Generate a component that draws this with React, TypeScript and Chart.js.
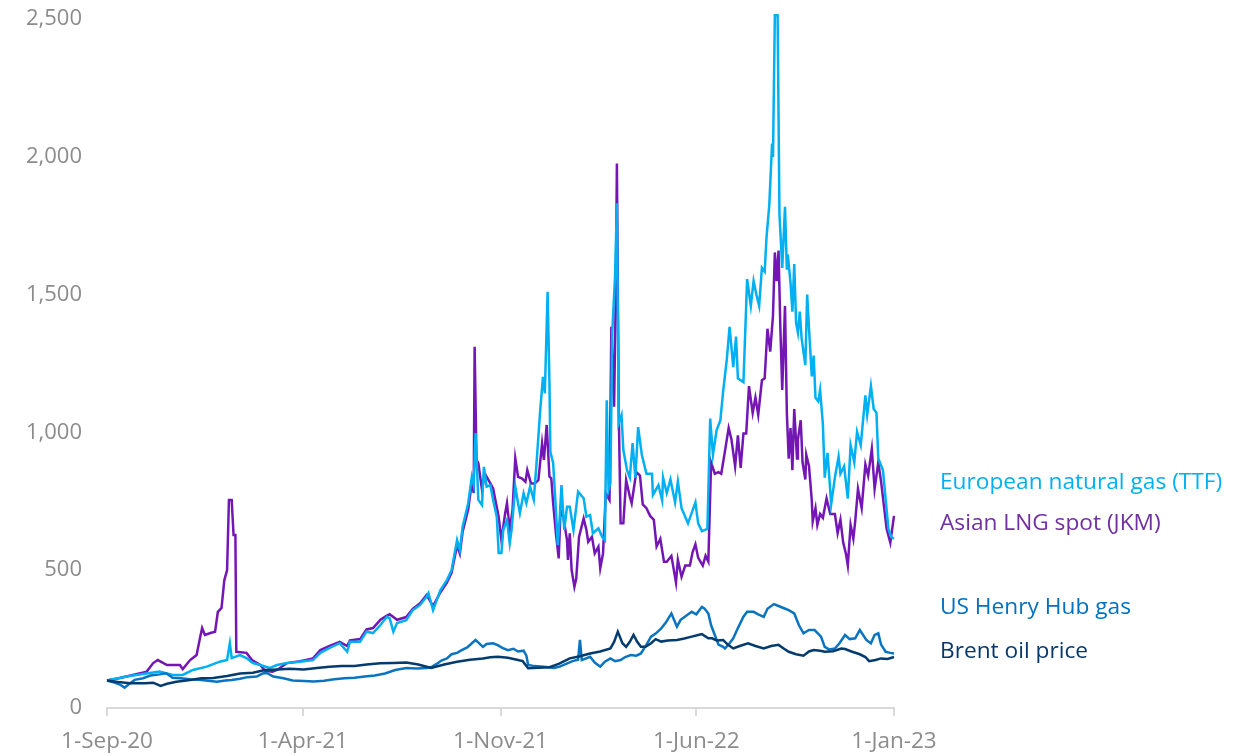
import React, { useEffect, useRef } from 'react';
import { Chart, registerables } from 'chart.js';

Chart.register(...registerables);

// ---- data (x = days since 1-Sep-20, y = index, 1-Sep-20 = 100) ----
const startDate = '2020-09-01';
const tickDates = ['2020-09-01', '2021-04-01', '2021-11-01', '2022-06-01', '2023-01-01'];
const tickLabels = ['1-Sep-20', '1-Apr-21', '1-Nov-21', '1-Jun-22', '1-Jan-23'];
const yTicks = [0, 500, 1000, 1500, 2000, 2500];

const seriesNames = ['European natural gas (TTF)', 'Asian LNG spot (JKM)', 'US Henry Hub gas', 'Brent oil price'];

const ttfDays = [0, 21, 39, 57, 71, 82, 93, 108, 122, 130, 133, 135, 144, 151, 158, 166, 176, 184, 195, 209, 223, 231, 241, 252, 260, 263, 274, 281, 288, 296, 303, 306, 310, 314, 324, 331, 339, 346, 348, 353, 361, 368, 373, 379, 382, 385, 391, 395, 397, 399, 402, 406, 408, 411, 415, 418, 422, 424, 427, 429, 433, 436, 438, 442, 445, 447, 451, 454, 458, 462, 465, 469, 472, 474, 477, 479, 480, 483, 486, 488, 490, 492, 495, 498, 501, 505, 510, 516, 519, 523, 526, 532, 536, 539, 541, 543, 545, 547, 550, 552, 554, 557, 559, 563, 566, 569, 572, 575, 579, 584, 590, 591, 597, 601, 602, 606, 610, 615, 618, 622, 629, 637, 640, 644, 650, 653, 656, 660, 664, 667, 671, 674, 678, 681, 683, 689, 693, 697, 700, 703, 706, 709, 712, 714, 717, 720, 721, 723, 726, 728, 731, 734, 736, 737, 740, 742, 744, 746, 748, 750, 752, 756, 758, 760, 763, 765, 767, 770, 772, 775, 777, 780, 782, 784, 788, 792, 794, 798, 802, 805, 809, 812, 816, 821, 823, 827, 830, 833, 835, 840, 846, 849, 852];
const ttfValues = [100, 114, 123, 132, 120, 120, 138, 150, 168, 174, 235, 181, 192, 181, 163, 156, 145, 156, 163, 168, 174, 200, 218, 235, 204, 240, 240, 277, 272, 301, 331, 326, 277, 308, 319, 355, 374, 404, 417, 355, 428, 464, 500, 609, 573, 658, 743, 839, 810, 998, 755, 736, 875, 803, 809, 755, 694, 562, 562, 646, 682, 598, 646, 803, 743, 707, 779, 743, 803, 755, 888, 1081, 1202, 1142, 1510, 1178, 930, 888, 718, 591, 682, 809, 646, 730, 730, 646, 785, 761, 694, 700, 634, 652, 621, 609, 1117, 791, 815, 1365, 1565, 1831, 1033, 1063, 936, 863, 836, 961, 836, 1019, 919, 850, 850, 773, 809, 753, 836, 780, 829, 746, 822, 725, 670, 746, 670, 642, 650, 1050, 919, 1009, 1043, 1148, 1265, 1383, 1237, 1348, 1196, 1182, 1556, 1459, 1549, 1500, 1459, 1597, 1583, 1708, 1826, 2048, 1999, 2514, 2514, 1792, 1597, 1819, 1590, 1646, 1542, 1438, 1611, 1397, 1362, 1438, 1341, 1244, 1500, 1376, 1203, 1279, 1126, 1113, 1154, 1030, 836, 926, 836, 739, 836, 912, 850, 877, 760, 954, 892, 1002, 954, 1134, 1064, 1168, 1085, 1071, 905, 863, 650, 621, 614];

const jkmDays = [0, 14, 28, 43, 50, 55, 65, 79, 82, 90, 97, 101, 103, 106, 112, 117, 120, 124, 127, 130, 132, 135, 137, 139, 140, 151, 157, 166, 171, 179, 184, 195, 209, 223, 231, 241, 252, 260, 263, 274, 281, 288, 296, 303, 306, 314, 324, 331, 339, 346, 353, 361, 368, 373, 379, 382, 385, 391, 395, 397, 398, 400, 402, 406, 409, 415, 418, 424, 427, 431, 433, 436, 439, 442, 445, 449, 453, 455, 459, 463, 467, 471, 473, 476, 479, 481, 483, 486, 489, 491, 494, 498, 499, 501, 503, 506, 508, 511, 516, 519, 521, 525, 528, 532, 534, 537, 540, 544, 546, 549, 551, 552, 554, 556, 559, 562, 566, 568, 573, 577, 580, 584, 588, 592, 595, 599, 603, 606, 611, 616, 618, 622, 626, 631, 634, 637, 640, 645, 648, 651, 654, 658, 662, 665, 669, 673, 676, 680, 683, 686, 689, 692, 695, 699, 702, 705, 709, 712, 715, 718, 721, 723, 725, 727, 729, 731, 734, 736, 738, 740, 742, 744, 747, 748, 751, 753, 756, 757, 760, 763, 764, 767, 769, 772, 775, 779, 783, 788, 791, 794, 797, 800, 802, 805, 808, 810, 813, 817, 821, 824, 828, 831, 835, 838, 844, 848, 852];
const jkmValues = [100, 109, 120, 132, 163, 174, 156, 156, 141, 174, 192, 259, 290, 265, 272, 277, 349, 363, 464, 500, 755, 755, 628, 628, 204, 200, 174, 156, 135, 132, 138, 163, 170, 180, 210, 225, 240, 225, 245, 250, 285, 290, 320, 335, 340, 320, 330, 360, 380, 410, 370, 420, 455, 490, 590, 560, 640, 720, 820, 780, 1311, 900, 888, 791, 851, 815, 797, 694, 609, 706, 743, 646, 718, 906, 839, 833, 821, 863, 815, 815, 827, 960, 900, 1027, 839, 833, 743, 634, 543, 718, 694, 609, 537, 634, 500, 440, 470, 621, 688, 646, 603, 621, 561, 585, 507, 561, 779, 755, 1383, 1093, 1553, 1976, 1081, 670, 670, 827, 767, 743, 856, 843, 739, 725, 697, 683, 586, 614, 531, 531, 552, 455, 538, 476, 517, 517, 566, 594, 545, 517, 552, 531, 891, 850, 856, 850, 932, 1016, 975, 877, 989, 871, 996, 996, 1168, 1071, 1126, 1064, 1189, 1196, 1376, 1293, 1424, 1653, 1549, 1660, 1376, 1154, 1459, 1071, 905, 1016, 863, 1085, 905, 975, 1044, 891, 829, 919, 877, 753, 677, 725, 664, 704, 690, 760, 704, 704, 635, 683, 600, 559, 517, 664, 614, 677, 795, 725, 884, 843, 940, 795, 891, 822, 650, 600, 697];

const hhDays = [0, 8, 14, 19, 25, 30, 39, 47, 57, 64, 71, 80, 90, 102, 112, 119, 128, 135, 144, 152, 162, 169, 173, 180, 191, 201, 213, 224, 235, 246, 257, 268, 279, 290, 301, 312, 324, 335, 346, 352, 357, 362, 368, 373, 379, 384, 390, 395, 399, 401, 407, 411, 418, 423, 428, 434, 440, 445, 451, 454, 456, 463, 473, 484, 490, 497, 504, 510, 512, 514, 523, 528, 534, 539, 545, 550, 556, 561, 567, 573, 578, 584, 589, 594, 600, 605, 611, 617, 621, 627, 633, 638, 644, 647, 651, 654, 658, 662, 667, 669, 674, 678, 683, 689, 693, 700, 705, 711, 715, 722, 727, 733, 738, 744, 749, 754, 760, 766, 773, 777, 782, 788, 793, 799, 804, 810, 815, 822, 827, 831, 835, 838, 843, 848, 852];
const hhValues = [100, 92, 85, 74, 90, 102, 108, 118, 122, 126, 110, 108, 104, 102, 98, 95, 100, 102, 106, 112, 114, 126, 127, 114, 108, 100, 98, 96, 99, 104, 108, 110, 114, 118, 125, 138, 145, 143, 145, 150, 160, 172, 180, 195, 200, 210, 220, 235, 247, 241, 222, 232, 235, 228, 218, 210, 215, 205, 208, 190, 156, 152, 150, 145, 150, 160, 170, 175, 247, 174, 186, 165, 150, 168, 180, 170, 174, 185, 192, 190, 198, 230, 259, 270, 289, 310, 343, 295, 320, 335, 349, 340, 367, 360, 343, 300, 265, 230, 222, 216, 235, 253, 290, 331, 349, 349, 340, 331, 360, 377, 370, 362, 355, 343, 301, 271, 283, 283, 259, 222, 212, 216, 235, 265, 250, 253, 283, 247, 235, 265, 271, 230, 204, 200, 198];

const brentDays = [0, 12, 25, 41, 50, 58, 65, 75, 90, 102, 115, 130, 144, 158, 171, 185, 198, 213, 227, 241, 254, 268, 281, 296, 310, 324, 337, 351, 365, 379, 393, 407, 415, 423, 434, 445, 450, 456, 467, 479, 489, 501, 512, 523, 534, 545, 549, 553, 558, 562, 566, 570, 574, 578, 583, 589, 594, 600, 607, 617, 625, 633, 640, 644, 651, 655, 660, 667, 672, 678, 685, 694, 702, 711, 719, 727, 733, 738, 746, 754, 760, 765, 772, 777, 786, 795, 799, 806, 815, 821, 825, 832, 838, 845, 852];
const brentValues = [100, 94, 90, 90, 92, 80, 88, 95, 102, 108, 109, 116, 125, 128, 138, 140, 142, 140, 145, 150, 152, 152, 158, 162, 163, 165, 158, 145, 158, 168, 175, 180, 184, 186, 182, 174, 170, 144, 146, 148, 160, 180, 188, 198, 205, 216, 240, 277, 235, 222, 240, 265, 240, 222, 222, 235, 250, 241, 245, 247, 252, 259, 265, 268, 253, 253, 245, 247, 230, 216, 225, 235, 225, 216, 225, 229, 215, 204, 195, 190, 205, 210, 208, 204, 206, 216, 214, 205, 195, 185, 170, 174, 180, 178, 185];

// ---- styles ----
const lineColors = ['#00B0F0', '#7416B4', '#0A74C0', '#043B6E'];
const labelColors = ['#00B0F0', '#7030A0', '#0070C0', '#06386B'];
const FONT = "'Open Sans', 'Noto Sans', sans-serif";

const dayOf = (iso: string) =>
  Math.round((Date.parse(iso + 'T00:00:00Z') - Date.parse(startDate + 'T00:00:00Z')) / 86400000);

const toPoints = (days: number[], vals: number[]) => days.map((d, i) => ({ x: d, y: vals[i] }));

const labelPlugin = {
  id: 'seriesLabels',
  afterDraw(chart: any) {
    const ctx = chart.ctx;
    const x = chart.chartArea.right + 46;
    const ys = [483, 524, 608, 652];
    ctx.save();
    ctx.font = `22.7px ${FONT}`;
    ctx.textAlign = 'left';
    ctx.textBaseline = 'middle';
    seriesNames.forEach((name, i) => {
      ctx.fillStyle = labelColors[i];
      ctx.fillText(name, x, ys[i]);
    });
    ctx.restore();
  },
};

export default function App() {
  const ref = useRef<HTMLCanvasElement | null>(null);

  useEffect(() => {
    if (!ref.current) return;
    const tickDays = tickDates.map(dayOf);
    const allSeries = [
      { days: ttfDays, vals: ttfValues, order: 3 },
      { days: jkmDays, vals: jkmValues, order: 4 },
      { days: hhDays, vals: hhValues, order: 2 },
      { days: brentDays, vals: brentValues, order: 1 },
    ];
    const chart = new Chart(ref.current, {
      type: 'line',
      data: {
        datasets: allSeries.map((s, i) => ({
          label: seriesNames[i],
          data: toPoints(s.days, s.vals),
          borderColor: lineColors[i],
          backgroundColor: lineColors[i],
          borderWidth: 2.5,
          pointRadius: 0,
          tension: 0,
          fill: false,
          order: s.order,
          clip: false as any,
        })),
      },
      options: {
        responsive: false,
        animation: false,
        layout: { padding: { left: 0, right: 354, top: 19, bottom: 0 } },
        plugins: { legend: { display: false }, tooltip: { enabled: false } },
        scales: {
          x: {
            type: 'linear',
            min: tickDays[0],
            max: tickDays[tickDays.length - 1],
            afterBuildTicks: (scale: any) => {
              scale.ticks = tickDays.map((v) => ({ value: v }));
            },
            afterFit: (scale: any) => {
              scale.height = 48;
            },
            grid: {
              display: true,
              drawOnChartArea: false,
              drawTicks: true,
              tickLength: 8,
              color: '#D9D9D9',
              lineWidth: 2,
            },
            border: { display: true, color: '#D9D9D9', width: 2 },
            ticks: {
              autoSkip: false,
              maxRotation: 0,
              padding: 12,
              color: '#8C8C8C',
              font: { family: FONT, size: 22.5 },
              callback: (v: any) => {
                const idx = tickDays.indexOf(Number(v));
                return idx >= 0 ? tickLabels[idx] : '';
              },
            },
          },
          y: {
            min: yTicks[0],
            max: yTicks[yTicks.length - 1],
            afterBuildTicks: (scale: any) => {
              scale.ticks = yTicks.map((v) => ({ value: v }));
            },
            afterFit: (scale: any) => {
              scale.width = 107;
              scale.paddingTop = 12;
              scale.paddingBottom = 12;
            },
            grid: { display: false, drawTicks: false },
            border: { display: false },
            ticks: {
              padding: 25,
              color: '#8C8C8C',
              font: { family: FONT, size: 22 },
              callback: (v: any) => Number(v).toLocaleString('en-US'),
            },
          },
        },
      },
      plugins: [labelPlugin],
    } as any);
    return () => chart.destroy();
  }, []);

  return (
    <div style={{ position: 'absolute', left: 0, top: 0, width: 1248, height: 756, background: '#fff' }}>
      <canvas ref={ref} width={1248} height={756} style={{ display: 'block' }} />
    </div>
  );
}
